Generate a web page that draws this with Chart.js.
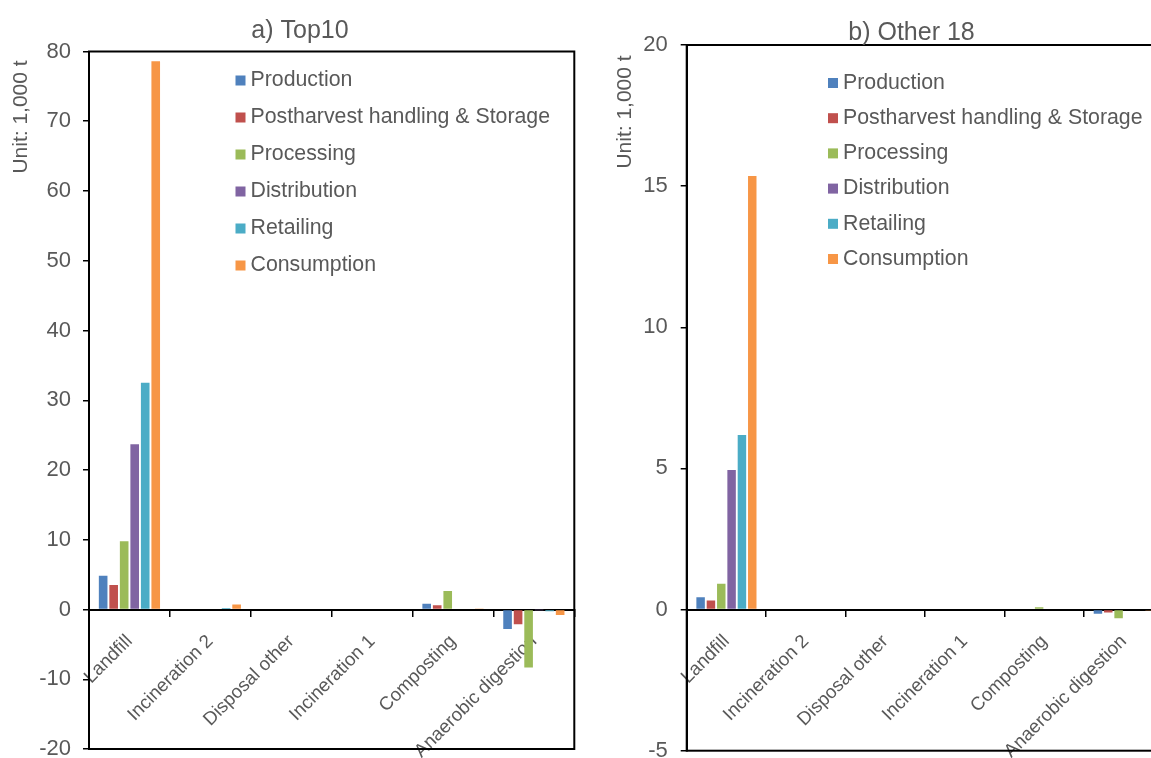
<!DOCTYPE html>
<html>
<head>
<meta charset="utf-8">
<script src="https://cdn.jsdelivr.net/npm/chart.js@4/dist/chart.umd.min.js"></script>
<style>
  html, body { margin: 0; padding: 0; background: #fff; overflow: hidden; width: 1151px; height: 758px; }
  .panel { position: absolute; top: 0; height: 758px; }
  #wrapA { left: 0; width: 600px; }
  #wrapB { left: 600px; width: 623px; }
</style>
</head>
<body>
<div id="wrapA" class="panel"><canvas id="chartA"></canvas></div>
<div id="wrapB" class="panel"><canvas id="chartB"></canvas></div>
<script>
// Disposal routes on the x axis
const categories = ['Landfill', 'Incineration 2', 'Disposal other', 'Incineration 1', 'Composting', 'Anaerobic digestion'];

// Supply-chain stages (one series each)
const stages = ['Production', 'Postharvest handling & Storage', 'Processing', 'Distribution', 'Retailing', 'Consumption'];
const stageColors = ['#4F81BD', '#C0504D', '#9BBB59', '#8064A2', '#4BACC6', '#F79646'];

// a) Top10 — unit: 1,000 t
const top10Production   = [4.85, 0, 0, 0, 0.83, -2.8];
const top10Postharvest  = [3.5, 0, 0, 0, 0.6, -2.1];
const top10Processing   = [9.8, 0, 0, 0, 2.65, -8.3];
const top10Distribution = [23.7, 0, 0, 0, 0, -0.05];
const top10Retailing    = [32.5, 0.2, 0, 0, 0, -0.25];
const top10Consumption  = [78.6, 0.7, 0, 0, 0.15, -0.8];

// b) Other 18 — unit: 1,000 t
const other18Production   = [0.44, 0, 0, 0, 0.03, -0.15];
const other18Postharvest  = [0.32, 0, 0, 0, 0, -0.1];
const other18Processing   = [0.91, 0, 0, 0, 0.08, -0.31];
const other18Distribution = [4.94, 0, 0, 0, 0, 0];
const other18Retailing    = [6.18, 0, 0, 0, 0, 0];
const other18Consumption  = [15.36, 0, 0, 0, 0, -0.03];

// y-axis tick ranges
const top10Ticks   = { min: -20, max: 80, step: 10 };
const other18Ticks = { min: -5, max: 20, step: 5 };

const FONT = '"Liberation Sans", Arial, Helvetica, sans-serif';
const TEXT = '#595959';

// Frame, panel title, rotated axis title and in-plot legend
const panelDecor = {
  id: 'panelDecor',
  afterDraw(chart, args, o) {
    const { ctx, chartArea: a } = chart;
    ctx.save();
    ctx.strokeStyle = '#000';
    ctx.lineWidth = 2;
    ctx.strokeRect(a.left, a.top, a.right - a.left, a.bottom - a.top);

    ctx.fillStyle = TEXT;
    ctx.textAlign = 'center';
    ctx.textBaseline = 'middle';
    ctx.font = '25px ' + FONT;
    ctx.fillText(o.title, o.titleX, o.titleY);

    ctx.save();
    ctx.translate(o.axisX, o.axisY);
    ctx.rotate(-Math.PI / 2);
    ctx.font = '21px ' + FONT;
    ctx.fillText(o.axisTitle, 0, 0);
    ctx.restore();

    ctx.font = '21.3px ' + FONT;
    ctx.textAlign = 'left';
    chart.data.datasets.forEach((ds, i) => {
      const y = o.legendY + i * o.legendStep;
      ctx.fillStyle = ds.backgroundColor;
      ctx.fillRect(o.legendX, y - 5, 10, 10);
      ctx.fillStyle = TEXT;
      ctx.fillText(ds.label, o.legendX + 15, y);
    });
    ctx.restore();
  }
};

function buildChart(id, series, ticks, area, decor) {
  const datasets = series.map((values, i) => ({
    label: stages[i],
    data: values,
    backgroundColor: stageColors[i],
    borderWidth: 0,
    categoryPercentage: 0.78,
    barPercentage: 0.82
  }));
  return new Chart(document.getElementById(id), {
    type: 'bar',
    data: { labels: categories, datasets },
    plugins: [panelDecor],
    options: {
      responsive: false,
      animation: false,
      devicePixelRatio: 1,
      layout: { padding: area.padding },
      plugins: {
        legend: { display: false },
        title: { display: false },
        tooltip: { enabled: false },
        panelDecor: decor
      },
      scales: {
        x: {
          type: 'category',
          position: { y: 0 },
          offset: true,
          z: 1,
          grid: { offset: true, drawOnChartArea: false, drawTicks: true, tickLength: 6, color: '#000', lineWidth: 1.5 },
          border: { display: true, color: '#000', width: 2 },
          ticks: { autoSkip: false, minRotation: 45, maxRotation: 45, padding: 15, color: TEXT, font: { family: FONT, size: 18.7 } },
          afterFit(s) { s.paddingLeft = 0; s.paddingRight = 0; }
        },
        y: {
          min: ticks.min,
          max: ticks.max,
          grid: { drawOnChartArea: false, drawTicks: true, tickLength: 6, color: '#000', lineWidth: 1.5 },
          border: { display: true, color: '#000', width: 2 },
          ticks: { stepSize: ticks.step, padding: area.tickPad, color: TEXT, font: { family: FONT, size: 22 } },
          afterFit(s) { s.width = area.axisWidth; s.paddingTop = 0; s.paddingBottom = 0; }
        }
      }
    }
  });
}

function sizeCanvas(id, w, h) {
  const c = document.getElementById(id);
  c.width = w; c.height = h;
  c.style.width = w + 'px'; c.style.height = h + 'px';
}

sizeCanvas('chartA', 600, 758);
sizeCanvas('chartB', 623, 758);

buildChart('chartA',
  [top10Production, top10Postharvest, top10Processing, top10Distribution, top10Retailing, top10Consumption],
  top10Ticks,
  { padding: { left: 0, top: 51.5, right: 25.7, bottom: 9 }, axisWidth: 89, tickPad: 12 },
  { title: 'a) Top10', titleX: 300, titleY: 31, axisTitle: 'Unit: 1,000 t', axisX: 21, axisY: 117,
    legendX: 235.5, legendY: 80.5, legendStep: 37 });

buildChart('chartB',
  [other18Production, other18Postharvest, other18Processing, other18Distribution, other18Retailing, other18Consumption],
  other18Ticks,
  { padding: { left: 0, top: 45, right: 59.5, bottom: 7.3 }, axisWidth: 86.7, tickPad: 13 },
  { title: 'b) Other 18', titleX: 311.5, titleY: 33, axisTitle: 'Unit: 1,000 t', axisX: 25, axisY: 112,
    legendX: 228, legendY: 83, legendStep: 35.2 });
</script>
</body>
</html>
